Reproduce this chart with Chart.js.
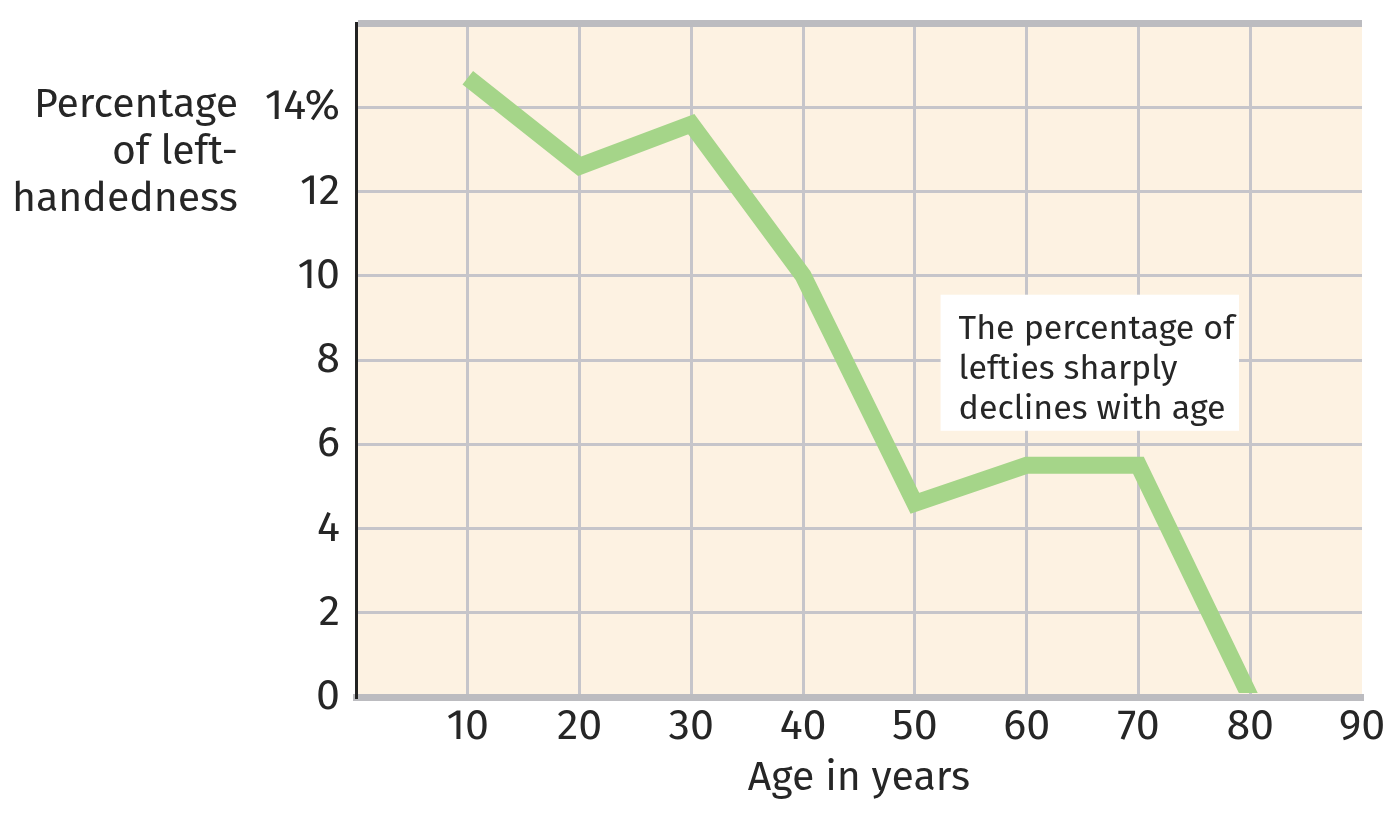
<!DOCTYPE html>
<html>
<head>
<meta charset="utf-8">
<script src="https://cdn.jsdelivr.net/npm/chart.js@4.4.0/dist/chart.umd.min.js"></script>
<style>
  html, body { margin: 0; padding: 0; background: #fff; }
  #wrap { width: 1400px; height: 823px; position: relative; }
</style>
</head>
<body>
<div id="wrap"><canvas id="chart"></canvas></div>
<script>
const ages = [10, 20, 30, 40, 50, 60, 70, 80];
const leftyPct = [14.7, 12.6, 13.6, 10.0, 4.6, 5.5, 5.5, 0.0];
const yLabelLines = ['Percentage', 'of left-', 'handedness'];
const noteLines = ['The percentage of', 'lefties sharply', 'declines with age'];

const FONT = '"Fira Sans", "Open Sans", "Noto Sans", sans-serif';
const TEXT = '#262626';
const GRID = '#c6c5ca';

const background = {
    id: 'background',
    beforeDraw(chart) {
        const { ctx, chartArea: a } = chart;
        ctx.save();
        ctx.fillStyle = '#fdf2e2';
        ctx.fillRect(a.left, a.top, a.right - a.left, a.bottom - a.top);
        ctx.restore();
    }
};

const labels = {
    id: 'labels',
    afterDraw(chart) {
        const { ctx, scales } = chart;
        ctx.save();
        ctx.fillStyle = TEXT;
        ctx.font = '41px ' + FONT;
        ctx.textAlign = 'right';
        ctx.textBaseline = 'alphabetic';
        yLabelLines.forEach((t, i) => ctx.fillText(t, 238, 117 + i * 47));

        // annotation box
        const x0 = scales.x.getPixelForValue(52.3);
        const x1 = scales.x.getPixelForValue(79.0);
        const y0 = scales.y.getPixelForValue(9.55);
        const y1 = scales.y.getPixelForValue(6.32);
        ctx.fillStyle = '#ffffff';
        ctx.fillRect(x0, y0, x1 - x0, y1 - y0);
        ctx.fillStyle = TEXT;
        ctx.font = '34px ' + FONT;
        ctx.textAlign = 'left';
        noteLines.forEach((t, i) => ctx.fillText(t, x0 + 18, y0 + 44 + i * 40));
        ctx.restore();
    }
};

new Chart(document.getElementById('chart'), {
    type: 'line',
    data: {
        datasets: [{
            data: ages.map((a, i) => ({ x: a, y: leftyPct[i] })),
            borderColor: '#a5d589',
            borderWidth: 17,
            borderCapStyle: 'butt',
            borderJoinStyle: 'miter',
            pointRadius: 0,
            tension: 0,
            clip: { left: 0, top: 0, right: 0, bottom: -4 }
        }]
    },
    options: {
        responsive: true,
        maintainAspectRatio: false,
        animation: false,
        layout: { padding: { top: 23, right: 38, left: 0, bottom: 0 } },
        plugins: { legend: { display: false }, tooltip: { enabled: false } },
        scales: {
            x: {
                type: 'linear',
                min: 0,
                max: 90,
                afterFit: s => {
                    s.height = 823 - 697;
                    s.paddingLeft = 0;
                    s.paddingRight = 0;
                },
                ticks: {
                    stepSize: 10,
                    color: TEXT,
                    font: { family: FONT, size: 43 },
                    padding: 4,
                    maxRotation: 0,
                    callback: v => (v === 0 ? '' : String(v))
                },
                grid: {
                    drawTicks: false,
                    lineWidth: 3,
                    color: c => (c.tick.value === 0 || c.tick.value === 90 ? 'rgba(0,0,0,0)' : GRID)
                },
                border: { color: '#bcbcc0', width: 7 },
                title: {
                    display: true,
                    text: 'Age in years',
                    color: TEXT,
                    font: { family: FONT, size: 41 },
                    padding: { top: 0, bottom: 20 }
                }
            },
            y: {
                min: 0,
                max: 16,
                afterFit: s => {
                    s.width = 356;
                    s.paddingTop = 0;
                    s.paddingBottom = 0;
                },
                ticks: {
                    stepSize: 2,
                    color: TEXT,
                    font: { family: FONT, size: 43 },
                    padding: 16,
                    callback: v => (v === 16 ? '' : v === 14 ? '14%' : String(v))
                },
                grid: {
                    drawTicks: false,
                    lineWidth: c => (c.tick.value === 16 ? 7 : 3),
                    color: c => (c.tick.value === 16 ? '#bcbcc0' : c.tick.value === 0 ? 'rgba(0,0,0,0)' : GRID)
                },
                border: { color: '#222222', width: 3 }
            }
        }
    },
    plugins: [background, labels]
});
</script>
</body>
</html>
